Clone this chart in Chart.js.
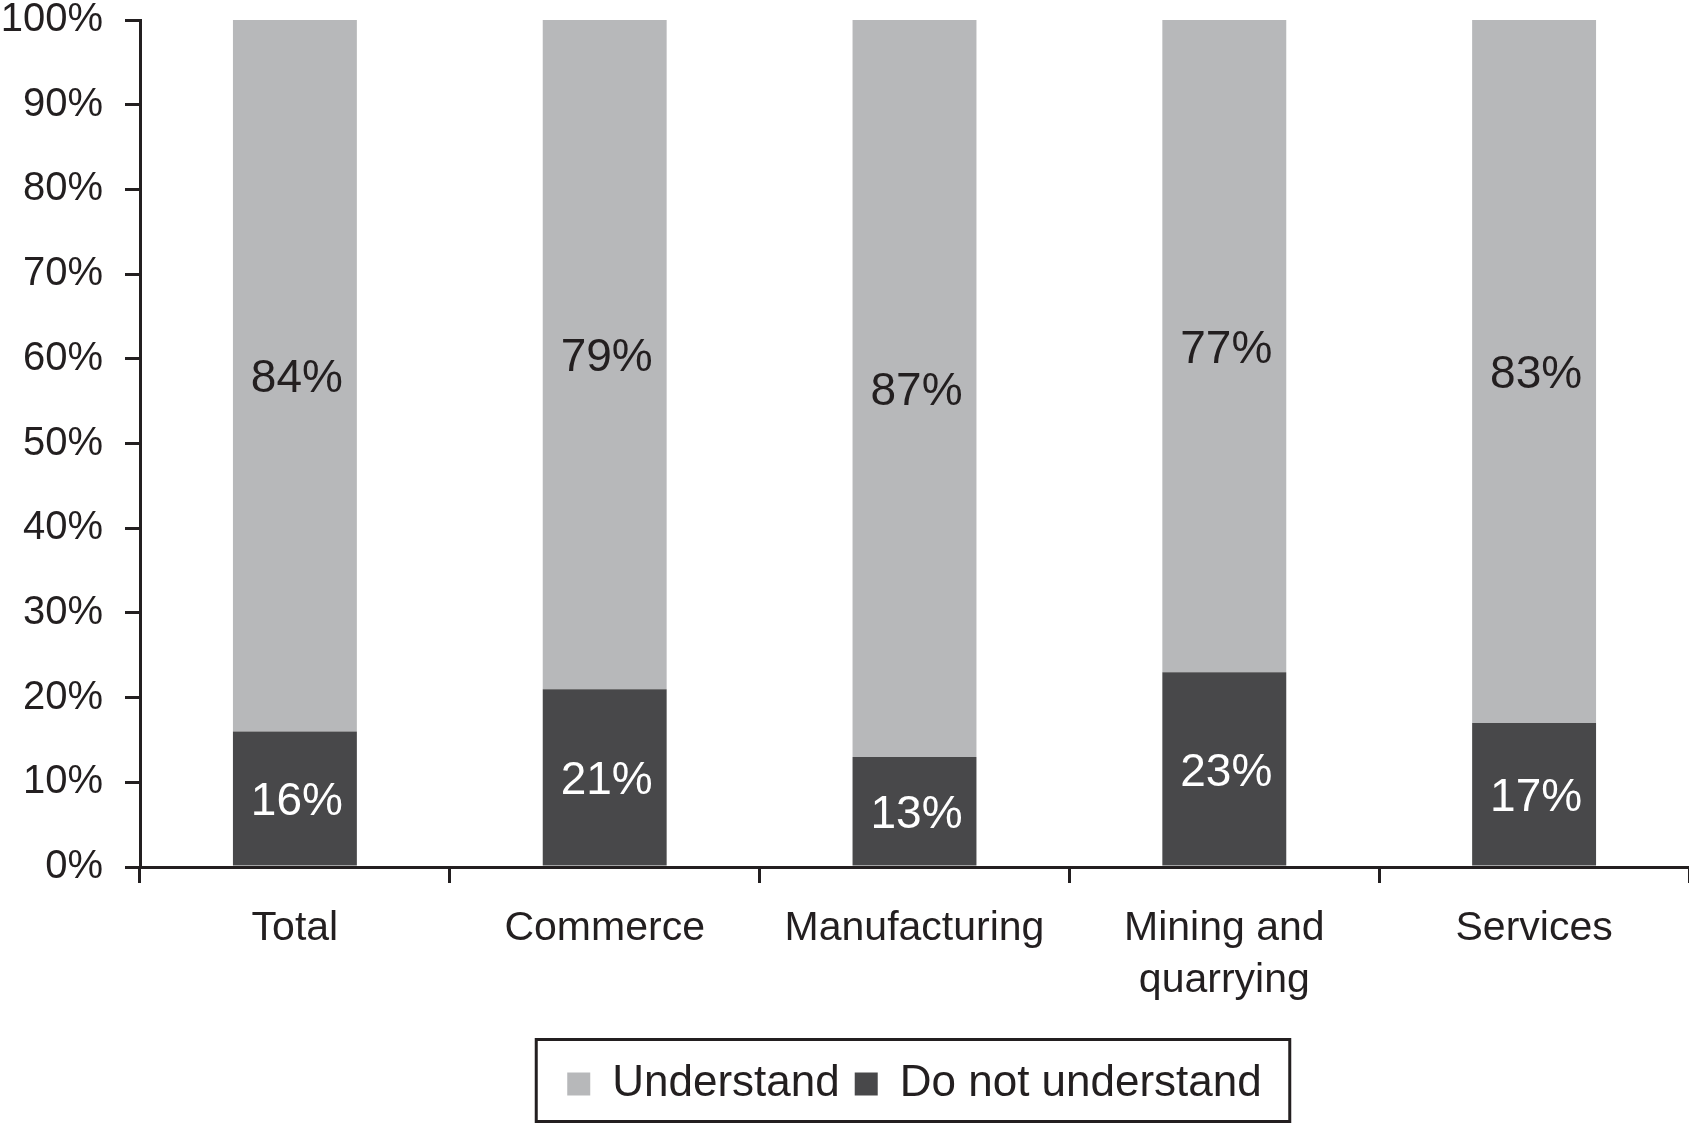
<!DOCTYPE html>
<html>
<head>
<meta charset="utf-8">
<script src="https://cdn.jsdelivr.net/npm/chart.js@4.4.1/dist/chart.umd.min.js"></script>
<style>
  html, body { margin: 0; padding: 0; background: #fff; }
  #wrap { width: 1689px; height: 1125px; }
</style>
</head>
<body>
<div id="wrap"><canvas id="myChart" width="1689" height="1125"></canvas></div>
<script>
const categories = ['Total', 'Commerce', 'Manufacturing', ['Mining and', 'quarrying'], 'Services'];
const doNotUnderstand = [16, 21, 13, 23, 17];
const understand = [84, 79, 87, 77, 83];
const yTicks = [0, 10, 20, 30, 40, 50, 60, 70, 80, 90, 100];

const ink = '#231f20';
const lightGrey = '#b7b8ba';
const darkGrey = '#48484a';
const fontFamily = '"Liberation Sans", Arial, Helvetica, sans-serif';

// value labels in the middle of each segment
const segmentLabels = {
  id: 'segmentLabels',
  afterDatasetsDraw(chart) {
    const ctx = chart.ctx;
    ctx.save();
    ctx.font = '46px ' + fontFamily;
    ctx.textAlign = 'center';
    ctx.textBaseline = 'middle';
    chart.data.datasets.forEach((ds, i) => {
      chart.getDatasetMeta(i).data.forEach((bar, j) => {
        ctx.fillStyle = ds.labelColor;
        ctx.fillText(ds.data[j] + '%', bar.x + 2, (bar.y + bar.base) / 2 + 4);
      });
    });
    ctx.restore();
  }
};

// frame round the legend
const legendFrame = {
  id: 'legendFrame',
  afterDraw(chart) {
    const boxes = chart.legend.legendHitBoxes;
    if (!boxes || !boxes.length) return;
    const left = Math.min(...boxes.map(b => b.left)) - 31;
    const right = Math.max(...boxes.map(b => b.left + b.width)) + 28;
    const ctx = chart.ctx;
    ctx.save();
    ctx.strokeStyle = ink;
    ctx.lineWidth = 3;
    ctx.strokeRect(left, 1039.5, right - left, 82);
    ctx.restore();
  }
};

const data = {
  labels: categories,
  datasets: [
    {
      label: 'Do not understand',
      data: doNotUnderstand,
      backgroundColor: darkGrey,
      labelColor: '#ffffff'
    },
    {
      label: 'Understand',
      data: understand,
      backgroundColor: lightGrey,
      labelColor: ink
    }
  ]
};

const config = {
  type: 'bar',
  data: data,
  options: {
    responsive: false,
    devicePixelRatio: 1,
    animation: false,
    datasets: {
      bar: { barPercentage: 0.4, categoryPercentage: 1, borderWidth: 0 }
    },
    layout: { padding: { top: 0, right: 0, left: 0, bottom: 9 } },
    plugins: {
      tooltip: { enabled: false },
      legend: {
        position: 'bottom',
        fullSize: false,
        reverse: true,
        labels: {
          color: ink,
          font: { family: fontFamily, size: 44 },
          boxWidth: 23,
          boxHeight: 23,
          padding: 15
        }
      }
    },
    scales: {
      x: {
        stacked: true,
        afterFit: (scale) => { scale.height = 180; },
        grid: {
          drawOnChartArea: false,
          color: ink,
          lineWidth: 3,
          tickLength: 16
        },
        border: { color: ink, width: 3 },
        ticks: {
          color: ink,
          padding: 20,
          font: { family: fontFamily, size: 41, lineHeight: 1.27 },
          maxRotation: 0,
          autoSkip: false
        }
      },
      y: {
        stacked: true,
        min: 0,
        max: 100,
        afterBuildTicks: (scale) => {
          scale.ticks = yTicks.map(v => ({ value: v }));
        },
        afterFit: (scale) => {
          scale.width = 140;
          scale.paddingTop = 20;
          scale.paddingBottom = 0;
        },
        grid: {
          drawOnChartArea: false,
          color: ink,
          lineWidth: 3,
          tickLength: 15
        },
        border: { color: ink, width: 3 },
        ticks: {
          color: ink,
          padding: 22,
          font: { family: fontFamily, size: 40 },
          callback: (v) => v + '%'
        }
      }
    }
  },
  plugins: [segmentLabels, legendFrame]
};

const myChart = new Chart(document.getElementById('myChart'), config);
</script>
</body>
</html>
